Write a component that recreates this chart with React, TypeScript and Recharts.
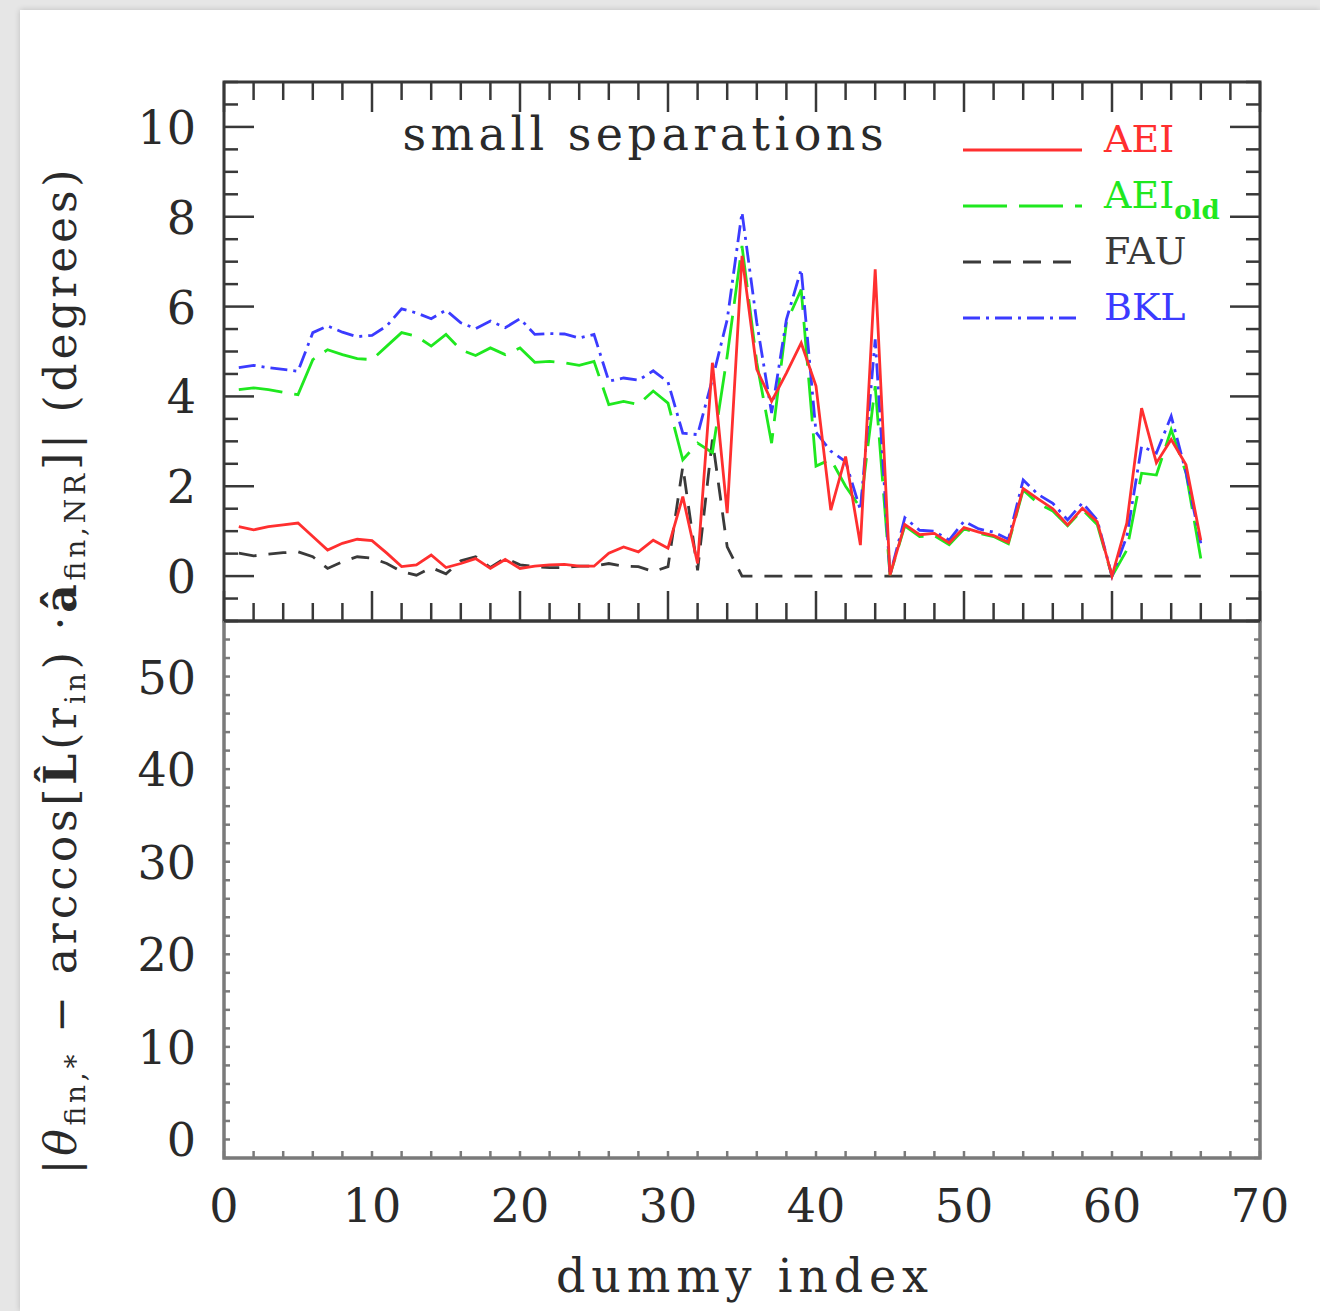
import { LineChart, Line, XAxis, YAxis } from 'recharts';

const W = 1320;
const H = 1311;
// plot frame in page pixels
const PL = 224;
const PR = 1260;
const PT = 82;
const PM = 621;
const PB = 1158;
const YW = 60;
const XH = 30;

const FONT = '"DejaVu Serif", serif';

const idx = [
  1, 2, 3, 4, 5, 6, 7, 8, 9, 10, 11, 12, 13, 14, 15, 16, 17, 18, 19, 20, 21, 22,
  23, 24, 25, 26, 27, 28, 29, 30, 31, 32, 33, 34, 35, 36, 37, 38, 39, 40, 41, 42, 43, 44,
  45, 46, 47, 48, 49, 50, 51, 52, 53, 54, 55, 56, 57, 58, 59, 60, 61, 62, 63, 64, 65, 66,
];

const aei = [
  1.1, 1.03, 1.1, 1.14, 1.18, 0.88, 0.58, 0.73, 0.82, 0.79, 0.51, 0.21, 0.25, 0.47, 0.19, 0.28,
  0.39, 0.17, 0.37, 0.17, 0.22, 0.25, 0.26, 0.22, 0.22, 0.51, 0.65, 0.54, 0.8, 0.62, 1.77, 0.28,
  4.75, 1.4, 7.13, 4.6, 3.89, 4.52, 5.19, 4.23, 1.47, 2.66, 0.69, 6.83, 0.02, 1.15, 0.92, 0.95,
  0.74, 1.08, 0.98, 0.9, 0.75, 1.95, 1.72, 1.5, 1.14, 1.51, 1.21, 0.0, 1.18, 3.74, 2.52, 3.04,
  2.48, 0.8,
];

const aeiOld = [
  4.15, 4.19, 4.15, 4.09, 4.04, 4.82, 5.04, 4.93, 4.84, 4.82, 5.12, 5.42, 5.34, 5.12, 5.38, 5.04,
  4.91, 5.08, 4.93, 5.08, 4.76, 4.78, 4.75, 4.69, 4.78, 3.82, 3.89, 3.82, 4.12, 3.85, 2.59, 2.96,
  2.75, 4.9, 7.35, 4.75, 2.96, 5.64, 6.38, 2.45, 2.6, 2.0, 1.52, 4.23, 0.02, 1.12, 0.88, 0.9,
  0.7, 1.05, 0.95, 0.88, 0.72, 1.92, 1.62, 1.45, 1.12, 1.48, 1.15, 0.0, 0.58, 2.29, 2.25, 3.26,
  2.3, 0.39,
];

const fau = [
  0.51, 0.45, 0.49, 0.52, 0.54, 0.43, 0.17, 0.32, 0.43, 0.4, 0.28, 0.1, 0.02, 0.19, 0.05, 0.34,
  0.43, 0.19, 0.4, 0.25, 0.21, 0.19, 0.19, 0.22, 0.22, 0.28, 0.22, 0.21, 0.1, 0.21, 2.44, 0.13,
  3.04, 0.65, 0, 0, 0, 0, 0, 0, 0, 0, 0, 0, 0, 0, 0, 0,
  0, 0, 0, 0, 0, 0, 0, 0, 0, 0, 0, 0, 0, 0, 0, 0,
  0, 0,
];

const bkl = [
  4.64, 4.69, 4.64, 4.6, 4.56, 5.42, 5.57, 5.43, 5.33, 5.36, 5.57, 5.95, 5.86, 5.73, 5.92, 5.64,
  5.51, 5.68, 5.53, 5.73, 5.38, 5.4, 5.39, 5.3, 5.38, 4.34, 4.41, 4.36, 4.57, 4.32, 3.18, 3.15,
  4.38, 5.71, 8.1, 5.64, 3.63, 5.71, 6.83, 3.2, 2.78, 2.55, 1.47, 5.27, 0.02, 1.3, 1.02, 1.0,
  0.8, 1.22, 1.05, 0.98, 0.82, 2.14, 1.82, 1.62, 1.25, 1.63, 1.25, 0.0, 0.88, 2.89, 2.74, 3.56,
  2.31, 0.73,
];

const xTicks = [
  0, 2, 4, 6, 8, 10, 12, 14, 16, 18, 20, 22, 24, 26, 28, 30, 32, 34, 36, 38, 40, 42, 44, 46,
  48, 50, 52, 54, 56, 58, 60, 62, 64, 66, 68, 70,
];
const xLabels = [0, 10, 20, 30, 40, 50, 60, 70];

const topYTicks = [
  -1, -0.5, 0, 0.5, 1, 1.5, 2, 2.5, 3, 3.5, 4, 4.5, 5, 5.5, 6, 6.5, 7, 7.5, 8, 8.5, 9, 9.5,
  10, 10.5, 11,
];
const topYLabels = [0, 2, 4, 6, 8, 10];

const botYTicks = [
  -2, 0, 2, 4, 6, 8, 10, 12, 14, 16, 18, 20, 22, 24, 26, 28, 30, 32, 34, 36, 38, 40, 42, 44,
  46, 48, 50, 52, 54, 56,
];
const botYLabels = [0, 10, 20, 30, 40, 50];

const data = idx.map((i, k) => ({ i, aei: aei[k], aeiOld: aeiOld[k], fau: fau[k], bkl: bkl[k] }));

const RED = '#ff2f2f';
const GREEN = '#1fe81f';
const BLACK = '#3a3a3a';
const BLUE = '#3b3bff';
const FRAME = '#383838';
const FRAME2 = '#7a7a7a';
const TXT = '#2a2a2a';

const DASH_GREEN = '44 12';
const DASH_BLACK = '18 12';
const DASH_BLUE = '17 6 3 6';
const SW = 2.8;

const TopXTick = (props: any) => {
  const { x, payload } = props;
  const major = payload.value % 10 === 0;
  const len = major ? 30 : 18;
  return (
    <g>
      <line x1={x} x2={x} y1={PM} y2={PM - len} stroke={FRAME} strokeWidth={2.5} />
      <line x1={x} x2={x} y1={PT} y2={PT + len} stroke={FRAME} strokeWidth={2.5} />
    </g>
  );
};

const TopYTick = (props: any) => {
  const { y, payload } = props;
  const v = payload.value;
  const major = v % 2 === 0;
  const len = major ? 30 : 14;
  return (
    <g>
      <line x1={PL} x2={PL + len} y1={y} y2={y} stroke={FRAME} strokeWidth={2.5} />
      <line x1={PR} x2={PR - len} y1={y} y2={y} stroke={FRAME} strokeWidth={2.5} />
      {topYLabels.includes(v) && (
        <text x={196} y={y + 17} textAnchor="end" fontSize={46} fontFamily={FONT} fill={TXT}>
          {v}
        </text>
      )}
    </g>
  );
};

const BotXTick = (props: any) => {
  const { x, payload } = props;
  const v = payload.value;
  return (
    <g>
      <line x1={x} x2={x} y1={PB} y2={PB - 7} stroke={FRAME2} strokeWidth={2.5} />
      {xLabels.includes(v) && (
        <text x={x} y={PB + 64} textAnchor="middle" fontSize={46} fontFamily={FONT} fill={TXT}>
          {v}
        </text>
      )}
    </g>
  );
};

const BotYTick = (props: any) => {
  const { y, payload } = props;
  const v = payload.value;
  return (
    <g>
      <line x1={PL} x2={PL + 6} y1={y} y2={y} stroke={FRAME2} strokeWidth={2.5} />
      <line x1={PR} x2={PR - 6} y1={y} y2={y} stroke={FRAME2} strokeWidth={2.5} />
      {botYLabels.includes(v) && (
        <text x={196} y={y + 17} textAnchor="end" fontSize={46} fontFamily={FONT} fill={TXT}>
          {v}
        </text>
      )}
    </g>
  );
};

const legendItems = [
  { name: 'AEI', sub: '', color: RED, dash: undefined as string | undefined, y: 150 },
  { name: 'AEI', sub: 'old', color: GREEN, dash: DASH_GREEN, y: 206 },
  { name: 'FAU', sub: '', color: BLACK, dash: DASH_BLACK, y: 262 },
  { name: 'BKL', sub: '', color: BLUE, dash: DASH_BLUE, y: 318 },
];

const abs = { position: 'absolute' as const, left: 0, top: 0 };

export default function App() {
  return (
    <div style={{ ...abs, width: W, height: H, background: '#e6e6e6', overflow: 'hidden' }}>
      <div style={{ position: 'absolute', left: 20, top: 10, width: W - 20, height: H - 10, background: '#fff', boxShadow: '0 0 6px rgba(0,0,0,0.18)' }} />

      {/* top panel */}
      <div style={abs}>
        <LineChart
          width={W}
          height={H}
          data={data}
          margin={{ top: PT, right: W - PR, bottom: H - PM - XH, left: PL - YW }}
        >
          <XAxis
            type="number"
            dataKey="i"
            domain={[0, 70]}
            ticks={xTicks}
            interval={0}
            height={XH}
            axisLine={false}
            tickLine={false}
            tick={(p: any) => <TopXTick {...p} />}
            allowDataOverflow
          />
          <YAxis
            type="number"
            domain={[-1, 11]}
            ticks={topYTicks}
            interval={0}
            width={YW}
            axisLine={false}
            tickLine={false}
            tick={(p: any) => <TopYTick {...p} />}
            allowDataOverflow
          />
          <Line dataKey="fau" stroke={BLACK} strokeWidth={SW} strokeDasharray={DASH_BLACK} dot={false} isAnimationActive={false} />
          <Line dataKey="aeiOld" stroke={GREEN} strokeWidth={SW} strokeDasharray={DASH_GREEN} dot={false} isAnimationActive={false} />
          <Line dataKey="bkl" stroke={BLUE} strokeWidth={SW} strokeDasharray={DASH_BLUE} dot={false} isAnimationActive={false} />
          <Line dataKey="aei" stroke={RED} strokeWidth={SW} dot={false} isAnimationActive={false} />
        </LineChart>
      </div>

      {/* bottom panel */}
      <div style={abs}>
        <LineChart
          width={W}
          height={H}
          data={data}
          margin={{ top: PM, right: W - PR, bottom: H - PB - XH, left: PL - YW }}
        >
          <XAxis
            type="number"
            dataKey="i"
            domain={[0, 70]}
            ticks={xTicks}
            interval={0}
            height={XH}
            axisLine={false}
            tickLine={false}
            tick={(p: any) => <BotXTick {...p} />}
            allowDataOverflow
          />
          <YAxis
            type="number"
            domain={[-2, 56]}
            ticks={botYTicks}
            interval={0}
            width={YW}
            axisLine={false}
            tickLine={false}
            tick={(p: any) => <BotYTick {...p} />}
            allowDataOverflow
          />
        </LineChart>
      </div>

      {/* frame, legend and labels */}
      <svg width={W} height={H} style={{ ...abs, pointerEvents: 'none' }}>
        <rect x={PL} y={PT} width={PR - PL} height={PM - PT} fill="none" stroke={FRAME} strokeWidth={3} />
        <polyline
          points={`${PL},${PM} ${PL},${PB} ${PR},${PB} ${PR},${PM}`}
          fill="none"
          stroke={FRAME2}
          strokeWidth={3.5}
        />
        <line x1={PL} x2={PR} y1={PM} y2={PM} stroke={FRAME} strokeWidth={3} />

        <text x={643} y={150} textAnchor="middle" fontSize={46} fontFamily={FONT} fill={TXT} textLength={481} lengthAdjust="spacing">
          small separations
        </text>

        {legendItems.map((it) => (
          <g key={it.name + it.sub}>
            <line x1={963} x2={1082} y1={it.y} y2={it.y} stroke={it.color} strokeWidth={SW} strokeDasharray={it.dash} />
            <text x={1104} y={it.y + 2} fontSize={38} fontFamily={FONT} fill={it.color}>
              {it.name}
              {it.sub && (
                <tspan fontSize={26} fontWeight="bold" dy={11}>
                  {it.sub}
                </tspan>
              )}
            </text>
          </g>
        ))}

        <text x={742} y={1292} textAnchor="middle" fontSize={46} fontFamily={FONT} fill={TXT} textLength={372} lengthAdjust="spacing">
          dummy index
        </text>

        <text
          transform="translate(76, 672) rotate(-90)"
          textAnchor="middle"
          fontSize={44}
          fontFamily={FONT}
          fill={TXT}
          textLength={1005}
          lengthAdjust="spacing"
        >
          <tspan>|</tspan>
          <tspan fontStyle="italic">θ</tspan>
          <tspan fontSize={28} dy={9}>fin,*</tspan>
          <tspan dy={-9}> − arccos[</tspan>
          <tspan fontWeight="bold">L̂</tspan>
          <tspan>(r</tspan>
          <tspan fontSize={28} dy={9}>in</tspan>
          <tspan dy={-9}>) ·</tspan>
          <tspan fontWeight="bold">â</tspan>
          <tspan fontSize={28} dy={9}>fin,NR</tspan>
          <tspan dy={-9}>]| (degrees)</tspan>
        </text>
      </svg>
    </div>
  );
}
